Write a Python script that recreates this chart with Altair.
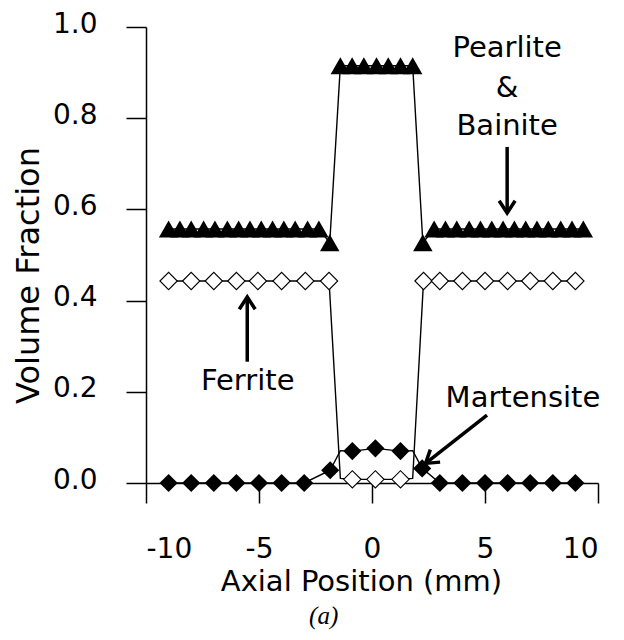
import altair as alt
import pandas as pd

# ---- data ----
# Pearlite & Bainite (filled triangles)
pb_x = [-9.0, -8.5, -8.0, -7.45, -6.95, -6.4, -5.9, -5.4, -4.9, -4.4, -3.9, -3.4, -2.85, -2.35,
        -1.87, -1.4, -0.88, -0.36, 0.2, 0.72, 1.26, 1.8, 2.25,
        2.75, 3.25, 3.75, 4.3, 4.8, 5.3, 5.8, 6.3, 6.8, 7.3, 7.8, 8.35, 8.85, 9.35]
pb_y = [0.557, 0.557, 0.557, 0.557, 0.557, 0.557, 0.557, 0.557, 0.557, 0.557, 0.557, 0.557, 0.557, 0.557,
        0.527, 0.915, 0.915, 0.915, 0.915, 0.915, 0.915, 0.915, 0.527,
        0.557, 0.557, 0.557, 0.557, 0.557, 0.557, 0.557, 0.557, 0.557, 0.557, 0.557, 0.557, 0.557, 0.557]
pb_mark = [1] * len(pb_x)

# Ferrite (open diamonds)
fe_x = [-9, -8, -7, -6, -5.05, -4, -2.95, -1.9, -1.4, -0.87, 0.15, 1.26, 1.8, 2.28,
        3, 4, 5, 6, 7, 8, 9]
fe_y = [0.443, 0.443, 0.443, 0.443, 0.443, 0.443, 0.443, 0.443, 0.01, 0.008, 0.008, 0.008, 0.01, 0.443,
        0.443, 0.443, 0.443, 0.443, 0.443, 0.443, 0.443]
fe_mark = [1, 1, 1, 1, 1, 1, 1, 1, 0, 1, 1, 1, 0, 1, 1, 1, 1, 1, 1, 1, 1]

# Martensite (filled diamonds)
ma_x = [-9, -8, -7, -6, -5, -4, -3, -1.85, -1.4, -0.87, 0.15, 1.26, 1.8, 2.22,
        3, 4, 5, 6, 7, 8, 9]
ma_y = [0, 0, 0, 0, 0, 0, 0, 0.028, 0.071, 0.07, 0.076, 0.07, 0.071, 0.032,
        0, 0, 0, 0, 0, 0, 0]
ma_mark = [1, 1, 1, 1, 1, 1, 1, 1, 0, 1, 1, 1, 0, 1, 1, 1, 1, 1, 1, 1, 1]

# annotations (data coordinates)
ann_text = ["Pearlite", "&", "Bainite", "Ferrite", "Martensite"]
ann_x = [5.98, 5.98, 5.98, -5.5, 6.68]
ann_y = [0.934, 0.846, 0.763, 0.204, 0.167]

arr_x = [5.98, -5.52, 5.09]
arr_y = [0.737, 0.266, 0.149]
arr_x2 = [5.98, -5.52, 2.37]
arr_y2 = [0.592, 0.408, 0.043]
arr_angle = [180, 0, 232]

frames = []
for name, xs, ys, ms in [("Pearlite & Bainite", pb_x, pb_y, pb_mark),
                         ("Ferrite", fe_x, fe_y, fe_mark),
                         ("Martensite", ma_x, ma_y, ma_mark)]:
    frames.append(pd.DataFrame({"x": xs, "y": ys, "mark": ms, "series": name}))
df = pd.concat(frames, ignore_index=True)

ann = pd.DataFrame({"t": ann_text, "x": ann_x, "y": ann_y})
arr = pd.DataFrame({"x": arr_x, "y": arr_y, "x2": arr_x2, "y2": arr_y2, "angle": arr_angle})
lab = pd.DataFrame({"t": ["(a)"], "x": [-2.14], "y": [-0.292]})

FONT = "DejaVu Sans"

xenc = alt.X("x:Q", scale=alt.Scale(domain=[-10, 10], nice=False, zero=False),
             axis=alt.Axis(values=[-10, -5, 0, 5, 10], tickSize=20, labelPadding=54,
                           labelBaseline="alphabetic", labelFontSize=28,
                           labelExpr="replace(datum.label, '\u2212', '-')",
                           title="Axial Position (mm)", titleFontSize=29,
                           titleX=215, titleY=107, titleBaseline="alphabetic"))
yenc = alt.Y("y:Q", scale=alt.Scale(domain=[0, 1], nice=False),
             axis=alt.Axis(values=[0, 0.2, 0.4, 0.6, 0.8, 1.0], format=".1f", tickSize=20,
                           labelPadding=29, labelFontSize=28, labelOffset=-3,
                           title="Volume Fraction", titleFontSize=32, titleAngle=270,
                           titleX=-108, titleY=248, titleBaseline="alphabetic"))

base = alt.Chart(df)
lines = base.mark_line(color="black", strokeWidth=1.4).encode(x=xenc, y=yenc, detail="series:N")

pts = base.transform_filter(alt.datum.mark == 1)
tri = pts.transform_filter(alt.datum.series == "Pearlite & Bainite").mark_point(
    shape="triangle-up", filled=True, color="black", size=380, opacity=1).encode(x="x:Q", y="y:Q")
fer = pts.transform_filter(alt.datum.series == "Ferrite").mark_point(
    shape="diamond", filled=True, fill="white", stroke="black", strokeWidth=1.1, size=300,
    opacity=1).encode(x="x:Q", y="y:Q")
mar = pts.transform_filter(alt.datum.series == "Martensite").mark_point(
    shape="diamond", filled=True, color="black", size=330, opacity=1).encode(x="x:Q", y="y:Q")

texts = alt.Chart(ann).mark_text(font=FONT, fontSize=29, color="black", align="center",
                                 baseline="alphabetic").encode(x="x:Q", y="y:Q", text="t:N")
shafts = alt.Chart(arr).mark_rule(color="black", strokeWidth=3.5).encode(
    x="x:Q", y="y:Q", x2="x2:Q", y2="y2:Q")
heads = alt.Chart(arr).mark_point(shape="M-0.65,1L0,0L0.65,1", filled=False, color="black",
                                  strokeWidth=3.5, size=600, opacity=1).encode(
    x="x2:Q", y="y2:Q", angle=alt.Angle("angle:Q", scale=None))
sub = alt.Chart(lab).mark_text(font="Liberation Serif", fontStyle="italic", fontSize=25,
                               color="black", baseline="middle").encode(x="x:Q", y="y:Q", text="t:N")

chart = alt.layer(lines, tri, fer, mar, shafts, heads, texts, sub).properties(
    width=452, height=456,
    autosize=alt.AutoSizeParams(type="none"),
    padding={"left": 138, "top": 19, "right": 18, "bottom": 149},
).configure_view(stroke=None).configure_axis(
    grid=False, domainColor="black", domainWidth=1.5, tickColor="black", tickWidth=1.5,
    labelColor="black", labelFont=FONT, titleFont=FONT, titleColor="black",
    titleFontWeight="normal",
)

chart.save("out.html", embed_options={"renderer": "svg", "actions": False})
